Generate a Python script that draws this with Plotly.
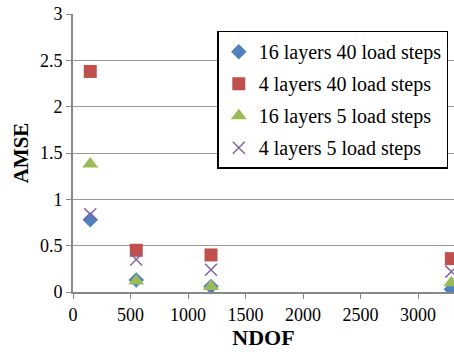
import plotly.graph_objects as go

ndof = [150, 550, 1200, 3290]
s16_40 = [0.78, 0.13, 0.06, 0.03]
s4_40 = [2.38, 0.45, 0.40, 0.36]
s16_5 = [1.38, 0.12, 0.06, 0.10]
s4_5 = [0.84, 0.35, 0.24, 0.22]
names = ["16 layers 40 load steps", "4 layers 40 load steps", "16 layers 5 load steps", "4 layers 5 load steps"]

FONT = "Liberation Serif, Times New Roman, serif"
fig = go.Figure()
specs = [
    (s16_40, names[0], "diamond", "#4F81BD", 12),
    (s4_40, names[1], "square", "#C0504D", 13),
    (s16_5, names[2], "triangle-up", "#9BBB59", 14),
    (s4_5, names[3], "x-thin", "#8064A2", 12),
]
for i, (ys, nm, sym, col, sz) in enumerate(specs):
    marker = dict(symbol=sym, color=col, size=sz)
    if sym == "x-thin":
        marker["line"] = dict(color=col, width=1.5)
    fig.add_trace(go.Scatter(x=ndof, y=ys, mode="markers", name=nm, marker=marker,
                             legendgroup="g%d" % i))

fig.update_layout(
    width=454, height=355,
    margin=dict(l=73, r=0, t=14, b=63),
    plot_bgcolor="white", paper_bgcolor="white",
    font=dict(family=FONT, size=18, color="black"),
    showlegend=True,
    legend=dict(x=0.985, y=0.94, xanchor="right", yanchor="top",
                bordercolor="black", borderwidth=1.5, bgcolor="white",
                font=dict(family=FONT, size=20), tracegroupgap=3, itemwidth=30),
    xaxis=dict(range=[0, 3313], tickvals=[0, 500, 1000, 1500, 2000, 2500, 3000],
               showgrid=False, showline=True, linecolor="#888", linewidth=2,
               ticks="outside", tickcolor="#888", ticklen=5, zeroline=False,
               tickfont=dict(family=FONT, size=18),
               title=dict(text="<b>NDOF</b>", font=dict(family=FONT, size=22), standoff=4)),
    yaxis=dict(range=[0, 3], tickvals=[0, 0.5, 1, 1.5, 2, 2.5, 3],
               showgrid=True, gridcolor="#999", gridwidth=1,
               showline=True, linecolor="#888", linewidth=2,
               ticks="outside", tickcolor="#888", ticklen=5, zeroline=False,
               tickfont=dict(family=FONT, size=18),
               title=dict(text="<b>AMSE</b>", font=dict(family=FONT, size=21), standoff=6)),
)
fig.write_html("out.html")
